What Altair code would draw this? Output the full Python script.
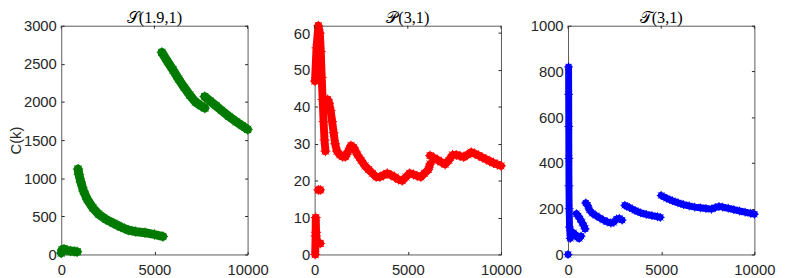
import altair as alt
import pandas as pd

# ---------------- data ----------------
# Panel S(1.9,1)
S_k1 = [0, 50, 150, 300, 500, 700, 850]
S_c1 = [20, 60, 70, 55, 45, 40, 35]
S_k2 = [900, 950, 1050, 1200, 1400, 1700, 2000, 2400, 2800, 3200, 3600, 4000, 4500, 5000, 5450]
S_c2 = [1120, 1050, 950, 830, 720, 610, 530, 460, 410, 360, 320, 300, 285, 262, 235]
S_k3 = [5400, 5700, 6000, 6300, 6600, 6900, 7200, 7500, 7700]
S_c3 = [2650, 2530, 2420, 2300, 2190, 2090, 2000, 1950, 1920]
S_k4 = [7700, 8000, 8300, 8600, 9000, 9400, 9700, 10000]
S_c4 = [2070, 2010, 1950, 1890, 1810, 1740, 1690, 1640]

# Panel P(3,1)
P_k1 = [30, 50, 60, 80, 120, 200, 300]
P_c1 = [0, 5, 10, 6, 3, 3, 3]
P_k2 = [200, 300]
P_c2 = [17.5, 17.5]
P_k3 = [20, 100, 200, 280, 330, 380, 430, 480, 530, 580]
P_c3 = [47, 56, 62, 60, 55, 48, 42, 36, 31, 28]
P_k4 = [700, 780, 860, 940, 1020, 1100, 1200, 1350, 1500, 1650, 1800, 1950, 2100, 2300,
        2500, 2700, 2900, 3100, 3300, 3500, 3700, 3900, 4100, 4300, 4500, 4700, 4900,
        5100, 5300, 5500, 5700, 5900, 6100, 6200]
P_c4 = [42, 41, 39, 36, 33, 30, 28, 27, 26.5, 26.5, 28, 29.5, 29, 27,
        25.5, 24, 23, 22, 21, 21, 21.5, 22, 21.5, 21, 20.3, 20, 21,
        22, 21.7, 21.3, 21, 22, 23, 24.5]
P_k5 = [6200, 6400, 6600, 6800, 7000, 7200, 7400, 7600, 7800, 8000, 8200, 8400, 8600,
        8800, 9000, 9200, 9400, 9600, 9800, 10000]
P_c5 = [26.8, 26.2, 25.6, 25, 24.4, 25.5, 27, 27, 26.7, 26.4, 27, 27.7, 27.3,
        26.8, 26.3, 25.8, 25.3, 24.8, 24.4, 24]

# Panel T(3,1)
T_k0 = [0]
T_c0 = [0]
T_k1 = [30, 35, 40, 45, 50, 60, 80, 120, 200, 300, 400, 500, 600, 700]
T_c1 = [820, 700, 560, 420, 300, 200, 120, 70, 80, 95, 85, 75, 70, 80]
T_k2 = [450, 550, 650, 750, 850, 920]
T_c2 = [178, 168, 155, 140, 125, 112]
T_k3 = [950, 1050, 1150, 1300, 1500, 1700, 1900, 2100, 2300, 2450, 2600, 2750, 2900]
T_c3 = [225, 215, 195, 180, 170, 160, 150, 143, 137, 140, 155, 158, 150]
T_k4 = [3050, 3300, 3600, 3900, 4200, 4500, 4800, 4950]
T_c4 = [215, 205, 192, 182, 175, 170, 165, 162]
T_k5 = [5000, 5300, 5600, 5900, 6200, 6500, 6800, 7100, 7400, 7700, 7900, 8100, 8300,
        8600, 8900, 9200, 9500, 9800, 10000]
T_c5 = [258, 245, 235, 226, 218, 212, 207, 204, 201, 198, 205, 210, 207,
        202, 196, 190, 185, 180, 176]

X_TICKS = [0, 5000, 10000]
S_TICKS = [0, 500, 1000, 1500, 2000, 2500, 3000]
P_TICKS = [0, 10, 20, 30, 40, 50, 60]
T_TICKS = [0, 200, 400, 600, 800, 1000]

STAR = "M-1,0L1,0M0,-1L0,1M-0.7,-0.7L0.7,0.7M-0.7,0.7L0.7,-0.7"
AX_COLOR = "#262626"
LABEL_FONT = "Liberation Sans"


def frame(segments):
    rows = []
    for i, (ks, cs) in enumerate(segments):
        for k, c in zip(ks, cs):
            rows.append({"k": k, "C": c, "seg": i})
    return pd.DataFrame(rows)


def axis_main(values, orient, title=None):
    kw = dict(
        values=values, orient=orient, domain=False, grid=False, format="d",
        ticks=True, tickSize=3, offset=-3, tickColor=AX_COLOR, tickWidth=1,
        labelFont=LABEL_FONT, labelFontSize=15, labelColor=AX_COLOR,
        labelFlush=False, labelOverlap=False, minExtent=0,
        labelPadding=8 if orient == "bottom" else 5,
    )
    if title:
        kw.update(title=title, titleFont=LABEL_FONT, titleFontSize=15,
                  titleFontWeight="normal", titleColor=AX_COLOR, titlePadding=0)
    else:
        kw.update(title=None)
    return alt.Axis(**kw)


def axis_mirror(values, orient):
    return alt.Axis(values=values, orient=orient, domain=False, grid=False,
                    ticks=True, tickSize=3, offset=-3, tickColor=AX_COLOR,
                    tickWidth=1, labels=False, title=None, minExtent=0, maxExtent=0)


def panel(segments, color, ydomain, yticks, title, ytitle, sw, msize):
    df = frame(segments)
    xs = alt.Scale(domain=[0, 10000], nice=False, zero=False)
    ys = alt.Scale(domain=ydomain, nice=False, zero=False)
    base = alt.Chart(df)
    line = base.mark_line(strokeWidth=sw, color=color, strokeCap="round",
                          strokeJoin="round").encode(
        x=alt.X("k:Q", scale=xs, axis=axis_main(X_TICKS, "bottom")),
        y=alt.Y("C:Q", scale=ys, axis=axis_main(yticks, "left", ytitle)),
        detail="seg:N",
    )
    pts = base.mark_point(shape=STAR, filled=False, color=color, size=msize,
                          strokeWidth=1, opacity=1).encode(
        x=alt.X("k:Q", scale=xs, axis=None),
        y=alt.Y("C:Q", scale=ys, axis=axis_mirror(yticks, "right")),
    )
    top_ticks = alt.Chart(pd.DataFrame({"t": X_TICKS})).mark_rule(
        color=AX_COLOR, strokeWidth=1).encode(
        x=alt.X("t:Q", scale=xs, axis=None),
        y=alt.value(0), y2=alt.value(3),
    )
    ttl = alt.Chart(pd.DataFrame({"t": [title]})).mark_text(
        font="Liberation Serif", fontSize=16.5, color="#000000", align="center",
        baseline="alphabetic").encode(
        x=alt.value(94.5), y=alt.value(-3), text="t:N")
    return alt.layer(line, pts, top_ticks, ttl).resolve_axis(
        x="independent", y="independent").properties(width=189, height=232)


p1 = panel([(S_k1, S_c1), (S_k2, S_c2), (S_k3, S_c3), (S_k4, S_c4)],
           "#007a00", [0, 3000], S_TICKS, "𝒮(1.9,1)", "C(k)", 9, 110)
p2 = panel([(P_k1, P_c1), (P_k2, P_c2), (P_k3, P_c3), (P_k4, P_c4), (P_k5, P_c5)],
           "#ff0000", [0, 62], P_TICKS, "𝒫(3,1)", None, 8, 100)
p3 = panel([(T_k0, T_c0), (T_k1, T_c1), (T_k2, T_c2), (T_k3, T_c3), (T_k4, T_c4), (T_k5, T_c5)],
           "#0000ff", [0, 1000], T_TICKS, "𝒯(3,1)", None, 7, 80)

chart = alt.hconcat(p1, p2, p3, spacing=68, bounds="flush").properties(
    padding={"left": 0, "top": -1, "right": 5, "bottom": 5}
).configure_view(stroke="#5a5a5a", strokeWidth=1)

chart.save("out.html", embed_options={"renderer": "svg", "actions": False})
